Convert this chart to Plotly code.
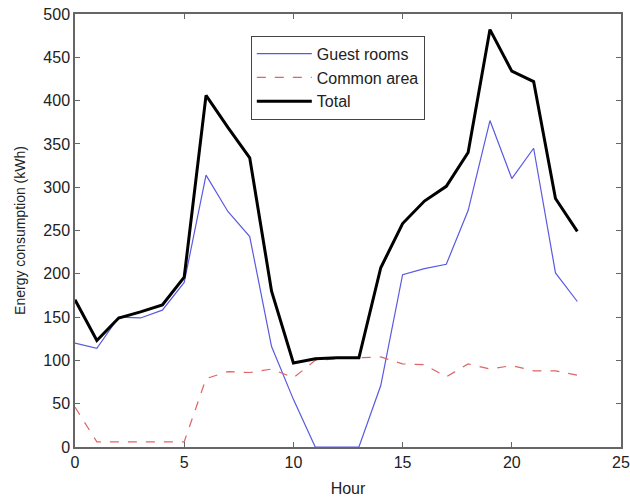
import plotly.graph_objects as go

hours = list(range(24))
guest_rooms = [120, 114, 150, 149, 158, 190, 314, 272, 243, 116, 55, 0, 0, 0, 71, 199, 206, 211, 273, 377, 310, 345, 201, 168]
common_area = [46, 6, 6, 6, 6, 6, 79, 87, 86, 90, 80, 100, 102, 103, 104, 96, 95, 81, 96, 90, 94, 88, 88, 83]
total = [170, 123, 149, 156, 164, 196, 406, 369, 334, 180, 97, 102, 103, 103, 207, 258, 284, 301, 340, 482, 434, 422, 287, 249]

fig = go.Figure()
fig.add_trace(go.Scatter(x=hours, y=guest_rooms, mode="lines", name="Guest rooms",
                         line=dict(color="#5a5ae0", width=1.2)))
fig.add_trace(go.Scatter(x=hours, y=common_area, mode="lines", name="Common area",
                         line=dict(color="#e06464", width=1.2, dash="dash")))
fig.add_trace(go.Scatter(x=hours, y=total, mode="lines", name="Total",
                         line=dict(color="black", width=3)))

axis_common = dict(showline=True, linecolor="#666666", linewidth=1.5, mirror="ticks",
                   ticks="inside", ticklen=5, tickcolor="#666666", showgrid=False,
                   zeroline=False, automargin=False, ticklabeloverflow="allow",
                   tickfont=dict(size=16, color="#222222"))

fig.update_layout(
    width=630, height=497,
    margin=dict(l=75, r=9, t=14, b=50),
    plot_bgcolor="white", paper_bgcolor="white",
    font=dict(family="Liberation Sans, Arial, sans-serif", size=16, color="#222222"),
    xaxis=dict(range=[0, 25], dtick=5, title=dict(text="Hour", standoff=14, font=dict(size=16)), **axis_common),
    yaxis=dict(range=[0, 500], dtick=50, title=dict(text="Energy consumption (kWh)", standoff=14, font=dict(size=14)), **axis_common),
    legend=dict(x=0.322, y=0.95, xanchor="left", yanchor="top",
                bordercolor="#444444", borderwidth=1, bgcolor="white",
                font=dict(size=16), tracegroupgap=0, itemwidth=55),
    showlegend=True,
    hovermode=False,
)

fig.write_html("out.html", config={"displayModeBar": False},
               post_script="document.body.style.margin='0';document.body.style.overflow='hidden';")
